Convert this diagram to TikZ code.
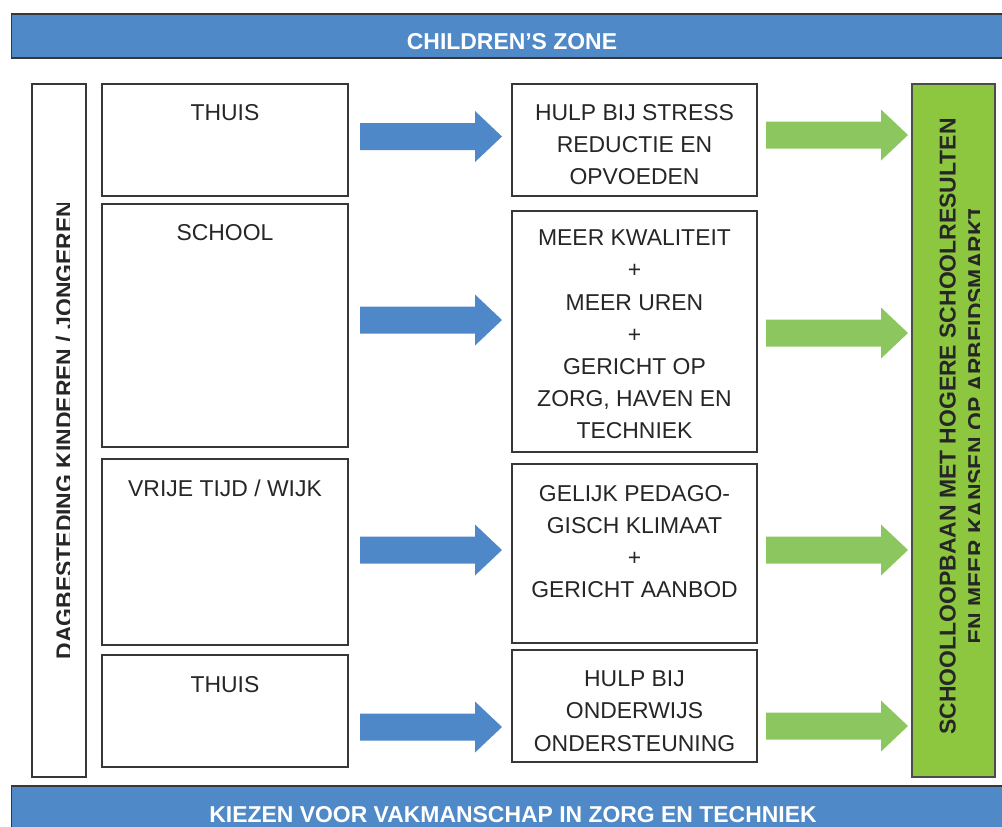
\documentclass[tikz,border=0pt]{standalone}
\usepackage{fontspec}
\setmainfont{Liberation Sans}
\usetikzlibrary{fit}
\definecolor{bannerblue}{RGB}{79,137,199}
\definecolor{arrowblue}{RGB}{79,136,200}
\definecolor{arrowgreen}{RGB}{139,199,94}
\definecolor{boxgreen}{RGB}{141,198,63}
\definecolor{edgegray}{RGB}{55,55,55}
\tikzset{
  frame/.style={draw=edgegray, line width=1pt, inner sep=0pt, fill=white},
  banner/.style={draw=edgegray, line width=1.2pt, inner sep=0pt, fill=bannerblue},
  bannertext/.style={font=\bfseries\fontsize{17.2}{20}\selectfont, text=white, inner sep=0pt, anchor=base},
  txt/.style={font=\fontsize{17.2}{24.1}\selectfont, align=center, inner sep=0pt, anchor=north, text=black!85},
  vtxt/.style={font=\bfseries\fontsize{17.2}{20}\selectfont, inner sep=0pt, anchor=base, rotate=90, text=black!85},
  blockarrow/.pic={
    \fill[pic actions] (0,-13.5) -- (115,-13.5) -- (115,-25.5) -- (142,0)
      -- (115,25.5) -- (115,13.5) -- (0,13.5) -- cycle;
  }
}
\begin{document}
\begin{tikzpicture}[x=0.75pt,y=-0.75pt]
\useasboundingbox (0,0) rectangle (1002,826);

% banners
\node[banner, fit={(11.5,14) (1012,58)}] (topbanner) {};
\node[bannertext] (toptext) at (512,49.3) {CHILDREN’S ZONE};
\node[banner, fit={(11.5,786) (1012,840)}] (botbanner) {};
\node[bannertext] (bottext) at (513,822.5) {KIEZEN VOOR VAKMANSCHAP IN ZORG EN TECHNIEK};

% side columns
\node[frame, fit={(32,84) (86,777)}] (leftcol) {};
\begin{scope}
  \clip (40,203) rectangle (69.5,658);
  \node[vtxt] (lefttext) at (72.4,430) {DAGBESTEDING KINDEREN / JONGEREN};
\end{scope}

\node[frame, fill=boxgreen, draw=edgegray!90, fit={(912,84) (995,777)}] (rightcol) {};
\node[vtxt] (righttext1) at (955.5,426.5) {SCHOOLLOOPBAAN MET HOGERE SCHOOLRESULTEN};
\begin{scope}
  \clip (960,209) rectangle (979,641);
  \node[vtxt] (righttext2) at (984,425) {EN MEER KANSEN OP ARBEIDSMARKT};
\end{scope}

% settings
\node[frame, fit={(102,84) (348,196)}] (thuisA) {};
\node[frame, fit={(102,204) (348,447)}] (school) {};
\node[frame, fit={(102,459) (348,645)}] (vrijetijd) {};
\node[frame, fit={(102,655) (348,767)}] (thuisB) {};
\node[txt] (thuisAtext) at (225,103.8) {THUIS};
\node[txt] (schooltext) at (225,223.8) {SCHOOL};
\node[txt] (vrijetijdtext) at (225,479.8) {VRIJE TIJD / WIJK};
\node[txt] (thuisBtext) at (225,675.8) {THUIS};

% interventions
\node[frame, fit={(512,84) (757,196)}] (stress) {};
\node[frame, fit={(512,211) (757,452)}] (kwaliteit) {};
\node[frame, fit={(512,464) (757,643)}] (klimaat) {};
\node[frame, fit={(512,650) (757,762)}] (onderwijs) {};
\node[txt] (stresstext) at (634.5,103.8) {HULP BIJ STRESS\\REDUCTIE EN\\OPVOEDEN};
\node[txt] (kwaliteittext) at (634.5,229.8) {MEER KWALITEIT\\+\\MEER UREN\\+\\GERICHT OP\\ZORG, HAVEN EN\\TECHNIEK};
\node[txt] (klimaattext) at (634.5,484.8) {GELIJK PEDAGO-\\GISCH KLIMAAT\\+\\GERICHT AANBOD};
\node[txt] (onderwijstext) at (634.5,670.8) {HULP BIJ\\ONDERWIJS\\ONDERSTEUNING};

% block arrows: settings to interventions
\pic[fill=arrowblue] at (360,136.5) {blockarrow};
\pic[fill=arrowblue] at (360,320) {blockarrow};
\pic[fill=arrowblue] at (360,550) {blockarrow};
\pic[fill=arrowblue] at (360,727) {blockarrow};

% block arrows: interventions to outcome
\pic[fill=arrowgreen] at (766,135) {blockarrow};
\pic[fill=arrowgreen] at (766,333) {blockarrow};
\pic[fill=arrowgreen] at (766,550) {blockarrow};
\pic[fill=arrowgreen] at (766,726) {blockarrow};
\end{tikzpicture}
\end{document}
